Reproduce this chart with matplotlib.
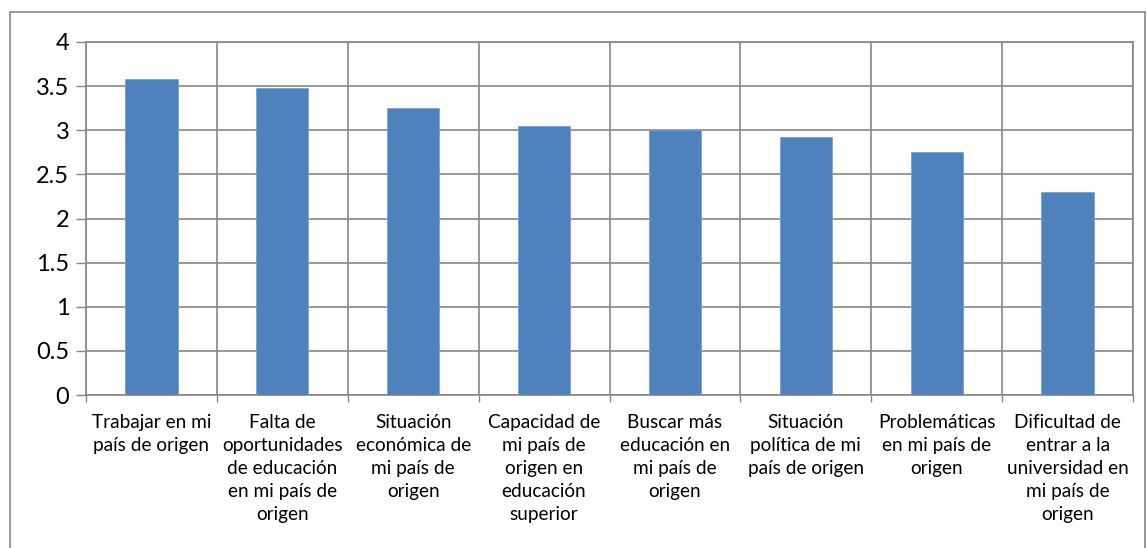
import matplotlib.pyplot as plt
import numpy as np
from matplotlib.patches import Rectangle

categories = [
    "Trabajar en mi\npaís de origen",
    "Falta de\noportunidades\nde educación\nen mi país de\norigen",
    "Situación\neconómica de\nmi país de\norigen",
    "Capacidad de\nmi país de\norigen en\neducación\nsuperior",
    "Buscar más\neducación en\nmi país de\norigen",
    "Situación\npolítica de mi\npaís de origen",
    "Problemáticas\nen mi país de\norigen",
    "Dificultad de\nentrar a la\nuniversidad en\nmi país de\norigen",
]
values = [3.58, 3.48, 3.25, 3.05, 3.0, 2.92, 2.75, 2.3]
y_ticks = [0, 0.5, 1, 1.5, 2, 2.5, 3, 3.5, 4]
y_labels = ["0", "0.5", "1", "1.5", "2", "2.5", "3", "3.5", "4"]

W, H = 1147, 548
grid_c = "#868686"
plt.rcParams['font.family'] = ['Lato', 'DejaVu Sans']

fig = plt.figure(figsize=(W / 100, H / 100), dpi=100)
ax = fig.add_axes([86 / W, 1 - 395 / H, (1133 - 86) / W, (395 - 42) / H])

x = np.arange(len(values))
ax.bar(x, values, width=0.4, color="#4F81BD", edgecolor="#7DA1D4",
       linewidth=0.6, zorder=3)

ax.set_xlim(-0.5, len(values) - 0.5)
ax.set_ylim(0, 4)
ax.set_yticks(y_ticks)
ax.set_yticklabels(y_labels, fontsize=17)
ax.set_xticks(x)
ax.set_xticklabels(categories, fontsize=13.7, linespacing=1.42, va="top")
ax.set_xticks(np.arange(-0.5, len(values)), minor=True)

ax.tick_params(axis="x", which="major", length=0, pad=14)
ax.tick_params(axis="x", which="minor", length=5, color=grid_c, width=1)
ax.tick_params(axis="y", length=7, color=grid_c, width=1, pad=5)

ax.grid(True, axis="y", which="major", color=grid_c, linewidth=1.2, zorder=0)
ax.grid(True, axis="x", which="minor", color=grid_c, linewidth=1.2, zorder=0)
ax.set_axisbelow(True)
for s in ax.spines.values():
    s.set_color(grid_c)
    s.set_linewidth(1.2)

fig.patches.append(Rectangle((10 / W, -0.01), (1145 - 10) / W, 1.01 - 12 / H,
                             transform=fig.transFigure, fill=False,
                             edgecolor=grid_c, linewidth=1.2))

fig.savefig("out.png", dpi=100)
